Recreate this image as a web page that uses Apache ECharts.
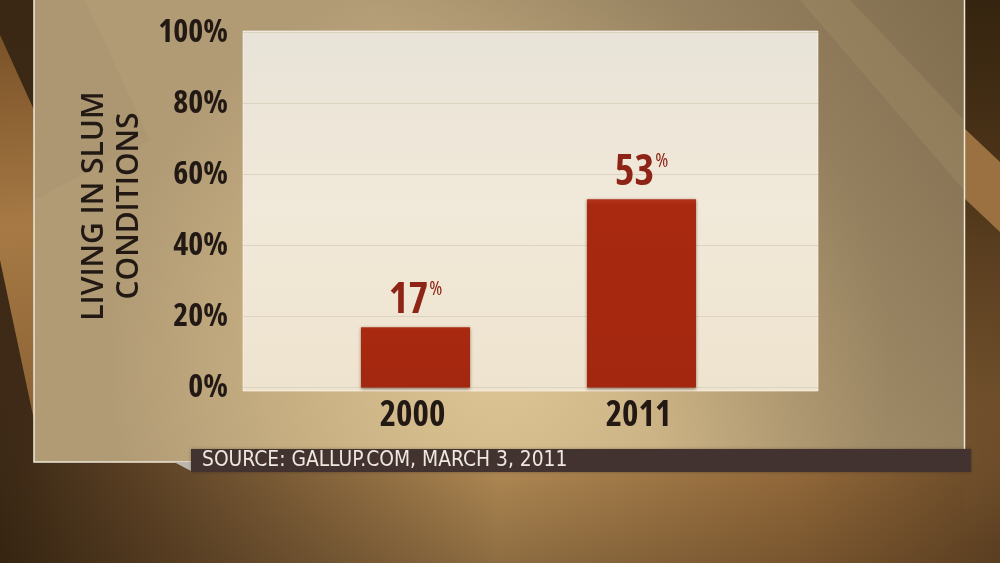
<!DOCTYPE html>
<html>
<head>
<meta charset="utf-8">
<script src="https://cdn.jsdelivr.net/npm/echarts@6/dist/echarts.min.js"></script>
<style>
html,body{margin:0;padding:0;background:#6b4a28;}
#chart{width:1000px;height:563px;}
</style>
</head>
<body>
<div id="chart"></div>
<script>
const categories = ['2000', '2011'];
const values = [17, 53];
const yTickLabels = ['0%', '20%', '40%', '60%', '80%', '100%'];
const axisTitle = 'LIVING IN SLUM\nCONDITIONS';
const sourceText = 'SOURCE: GALLUP.COM, MARCH 3, 2011';

const COND = '"Open Sans", "DejaVu Sans Condensed", sans-serif';
const NARROW = '"DejaVu Sans Condensed", sans-serif';
const LG = echarts.graphic.LinearGradient;
const RG = echarts.graphic.RadialGradient;
const chart = echarts.init(document.getElementById('chart'), null, {renderer: 'canvas'});

const option = {
  animation: false,
  backgroundColor: 'transparent',
  graphic: [
    // base wood background
    {type: 'rect', z: -30, shape: {x: 0, y: 0, width: 1000, height: 563},
      style: {fill: new LG(0, 0, 1, 0, [
        {offset: 0, color: '#3a2814'},
        {offset: 0.15, color: '#5e4326'},
        {offset: 0.5, color: '#b08954'},
        {offset: 0.8, color: '#93693a'},
        {offset: 1, color: '#6a4a28'}])}},
    {type: 'rect', z: -29, shape: {x: 0, y: 462, width: 1000, height: 101},
      style: {fill: new LG(0, 0, 0, 1, [
        {offset: 0, color: 'rgba(40,25,10,0)'},
        {offset: 1, color: 'rgba(40,25,10,0.25)'}])}},
    // left strip
    {type: 'rect', z: -28, shape: {x: 0, y: 0, width: 34, height: 540},
      style: {fill: new LG(0, 0, 0, 1, [
        {offset: 0, color: 'rgba(58,40,21,1)'},
        {offset: 0.7, color: 'rgba(62,42,23,1)'},
        {offset: 1, color: 'rgba(62,42,23,0)'}])}},
    {type: 'polygon', z: -27, shape: {points: [[0, 35], [0, 260], [34, 420], [34, 110]]},
      style: {fill: new LG(0, 0, 1, 1, [
        {offset: 0, color: '#7a5228'},
        {offset: 0.5, color: '#a77a45'},
        {offset: 1, color: '#8a6234'}])}},
    // right strip
    {type: 'rect', z: -28, shape: {x: 964, y: 0, width: 36, height: 540},
      style: {fill: new LG(0, 0, 0, 1, [
        {offset: 0, color: 'rgba(53,36,15,1)'},
        {offset: 0.35, color: 'rgba(78,53,25,1)'},
        {offset: 0.75, color: 'rgba(112,80,44,0.8)'},
        {offset: 1, color: 'rgba(112,80,44,0)'}])}},
    {type: 'polygon', z: -27, shape: {points: [[964, 128], [1000, 162], [1000, 232], [964, 198]]},
      style: {fill: '#9c7142'}},
    // panel
    {type: 'rect', z: -25, shape: {x: 34, y: 0, width: 930, height: 462},
      style: {fill: new RG(0.5, 0.78, 0.85, [
        {offset: 0, color: '#dfc696'},
        {offset: 0.45, color: '#ccb385'},
        {offset: 1, color: '#b19b75'}])}},
    // panel top-right shade (soft)
    {type: 'rect', z: -24, shape: {x: 34, y: 0, width: 930, height: 462},
      style: {fill: new LG(1, 0, 0.55, 0.6, [
        {offset: 0, color: 'rgba(60,45,25,0.42)'},
        {offset: 1, color: 'rgba(60,45,25,0)'}])}},
    // panel light diagonal band (right)
    {type: 'polygon', z: -23, shape: {points: [[800, 0], [850, 0], [964, 120], [964, 190]]},
      style: {fill: 'rgba(235,205,150,0.1)'}},
    // panel left subtle band
    {type: 'polygon', z: -23, shape: {points: [[34, 0], [85, 0], [150, 140], [34, 200]]},
      style: {fill: 'rgba(120,105,85,0.07)'}},
    // panel border
    {type: 'polyline', z: -22, shape: {points: [[34, 0], [34, 462], [191, 462]]},
      style: {stroke: '#eee8d8', lineWidth: 1.5, fill: null}},
    {type: 'polyline', z: -22, shape: {points: [[964.5, 0], [964.5, 449]]},
      style: {stroke: '#eee8d8', lineWidth: 1.5, fill: null}},
    // plot background
    {type: 'rect', z: -12, shape: {x: 243, y: 31, width: 575, height: 360},
      style: {fill: new LG(0, 0, 0, 1, [
        {offset: 0, color: '#e8e3d8'},
        {offset: 0.5, color: '#f1e9d9'},
        {offset: 1, color: '#eee3ce'}]), stroke: 'rgba(255,250,240,0.6)', lineWidth: 1}},
    // source triangle
    {type: 'polygon', z: 5, shape: {points: [[174, 462], [191, 462], [191, 471]]},
      style: {fill: '#bdb7b0'}},
    // source bar
    {type: 'rect', z: 5, shape: {x: 191, y: 449, width: 780, height: 23},
      style: {fill: '#423331', shadowColor: 'rgba(0,0,0,0.3)', shadowBlur: 3}},
    {type: 'text', z: 6, left: 202, top: 450,
      style: {text: sourceText, fill: '#efe8de', font: '20.8px ' + NARROW}}
  ],
  grid: [
    {left: 243, right: 182, top: 32.5, bottom: 175.5},
    {left: 302.5, right: 245.5, top: 32.5, bottom: 175.5}
  ],
  xAxis: [
    {type: 'category', gridIndex: 0, data: categories, show: false},
    {type: 'category', gridIndex: 1, data: categories,
      axisLine: {show: false}, axisTick: {show: false},
      axisLabel: {margin: 11, color: '#221915', fontSize: 35, fontWeight: 'bold condensed', fontFamily: COND,
        padding: [0, 6, 0, 0]}}
  ],
  yAxis: [
    {type: 'value', gridIndex: 0, min: 0, max: 100, interval: 20,
      name: axisTitle, nameLocation: 'middle', nameRotate: 90, nameGap: 92,
      nameTextStyle: {color: '#221915', fontSize: 30, fontWeight: 600, fontFamily: '"Open Sans", sans-serif', lineHeight: 35,
        padding: [0, 0, 0, 8]},
      axisLine: {show: false}, axisTick: {show: false},
      axisLabel: {margin: 15, color: '#221915', fontSize: 32, fontWeight: 'bold condensed', fontFamily: COND,
        formatter: function (v) { return yTickLabels[Math.round(v / 20)]; }},
      splitLine: {show: true, lineStyle: {color: '#ddd3c1', width: 1}}},
    {type: 'value', gridIndex: 1, min: 0, max: 100, interval: 20, show: false, splitLine: {show: false}}
  ],
  series: [{
    type: 'bar', xAxisIndex: 1, yAxisIndex: 1, data: values, barWidth: 109,
    itemStyle: {
      color: new LG(0, 0, 0, 1, [
        {offset: 0, color: '#b5341a'},
        {offset: 0.03, color: '#a8290f'},
        {offset: 1, color: '#a3270f'}]),
      shadowColor: 'rgba(60,20,5,0.55)', shadowBlur: 3, shadowOffsetY: 1
    },
    label: {
      show: true, position: 'top', distance: 4,
      formatter: function (p) { return '{v|' + p.value + '}{p|%}'; },
      rich: {
        v: {fontSize: 42, fontWeight: 'bold condensed', fontFamily: COND, color: '#8e2416', lineHeight: 44},
        p: {fontSize: 20, fontWeight: 'condensed', fontFamily: COND, color: '#8e2416', lineHeight: 26, verticalAlign: 'top', padding: [0, 0, 0, 1]}
      }
    }
  }]
};
chart.setOption(option);
</script>
</body>
</html>
